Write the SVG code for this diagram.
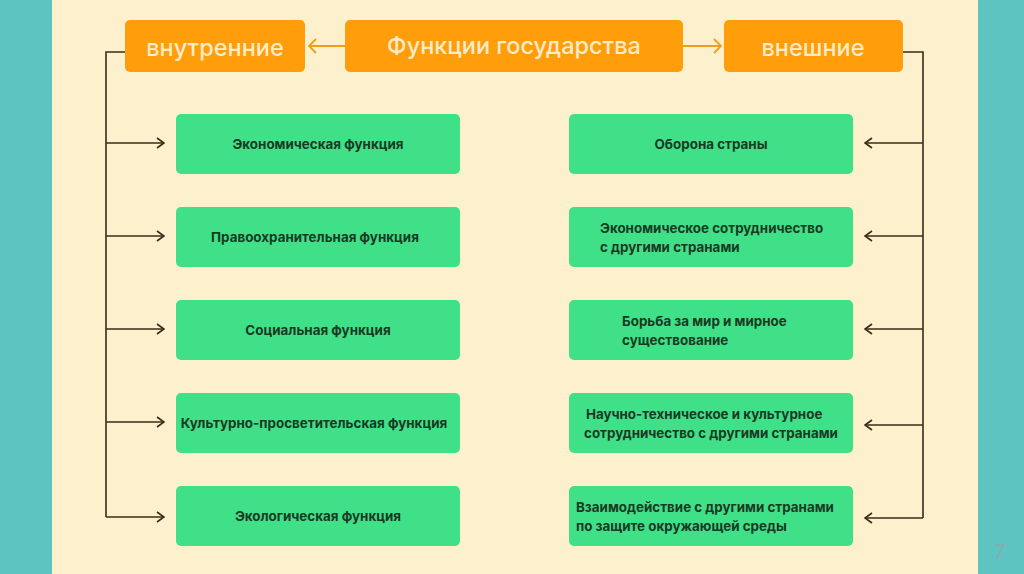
<svg xmlns="http://www.w3.org/2000/svg" width="1024" height="574" viewBox="0 0 1024 574">
<style>
.hdr{fill:#FF9D0B}
.hdrt{fill:#FCEBC4;font-family:Inter,"Liberation Sans",sans-serif;font-weight:500;font-size:23.5px;text-anchor:middle}
.box{fill:#40E089}
.bt{fill:#183A22;font-family:Inter,"Liberation Sans",sans-serif;font-weight:700;font-size:13.4px}
.c{text-anchor:middle}
.con{fill:none;stroke:#3B2A18;stroke-width:1.6}
.ocon{fill:none;stroke:#EE9E1C;stroke-width:1.8}
</style>
<defs>
<marker id="ah" markerUnits="userSpaceOnUse" viewBox="0 0 10 12" refX="9" refY="6" markerWidth="10" markerHeight="12" orient="auto">
<path d="M2,1 L9,6 L2,11" fill="none" stroke="#3B2A18" stroke-width="1.6"/>
</marker>
<marker id="oh" markerUnits="userSpaceOnUse" viewBox="0 0 10 16" refX="9" refY="8" markerWidth="10" markerHeight="16" orient="auto">
<path d="M2,1 L9,8 L2,15" fill="none" stroke="#EE9E1C" stroke-width="1.8"/>
</marker>
</defs>
<rect x="0" y="0" width="1024" height="574" fill="#FDF1CD"/>
<rect x="0" y="0" width="52" height="574" fill="#5EC4C2"/>
<rect x="978" y="0" width="46" height="574" fill="#5EC4C2"/>
<text x="1000" y="559" font-family="Inter,'Liberation Sans',sans-serif" font-size="20" fill="#82AEAD" text-anchor="middle">7</text>

<g id="connectors">
<path class="ocon" d="M345,46 H309" marker-end="url(#oh)"/>
<path class="ocon" d="M683,46 H721" marker-end="url(#oh)"/>
<path class="con" d="M125,52 H106 V517"/>
<path class="con" d="M106,143 H164" marker-end="url(#ah)"/>
<path class="con" d="M106,236 H164" marker-end="url(#ah)"/>
<path class="con" d="M106,329 H164" marker-end="url(#ah)"/>
<path class="con" d="M106,422 H164" marker-end="url(#ah)"/>
<path class="con" d="M106,517 H164" marker-end="url(#ah)"/>
<path class="con" d="M903,52 H923 V518"/>
<path class="con" d="M923,143 H865" marker-end="url(#ah)"/>
<path class="con" d="M923,236 H865" marker-end="url(#ah)"/>
<path class="con" d="M923,329 H865" marker-end="url(#ah)"/>
<path class="con" d="M923,425 H865" marker-end="url(#ah)"/>
<path class="con" d="M923,518 H865" marker-end="url(#ah)"/>
</g>

<g id="n-main"><rect class="hdr" x="345" y="20" width="338" height="52" rx="5"/><text class="hdrt" x="514" y="54">Функции государства</text></g>
<g id="n-inner"><rect class="hdr" x="125" y="20" width="180" height="52" rx="5"/><text class="hdrt" x="215" y="56">внутренние</text></g>
<g id="n-outer"><rect class="hdr" x="724" y="20" width="179" height="52" rx="5"/><text class="hdrt" x="813" y="56">внешние</text></g>

<g id="n-l1"><rect class="box" x="176" y="114" width="284" height="60" rx="5"/><text class="bt c" x="318" y="149">Экономическая функция</text></g>
<g id="n-l2"><rect class="box" x="176" y="207" width="284" height="60" rx="5"/><text class="bt c" x="315" y="242">Правоохранительная функция</text></g>
<g id="n-l3"><rect class="box" x="176" y="300" width="284" height="60" rx="5"/><text class="bt c" x="318" y="335">Социальная функция</text></g>
<g id="n-l4"><rect class="box" x="176" y="393" width="284" height="60" rx="5"/><text class="bt c" x="314" y="428">Культурно-просветительская функция</text></g>
<g id="n-l5"><rect class="box" x="176" y="486" width="284" height="60" rx="5"/><text class="bt c" x="318" y="521">Экологическая функция</text></g>

<g id="n-r1"><rect class="box" x="569" y="114" width="284" height="60" rx="5"/><text class="bt c" x="711" y="149">Оборона страны</text></g>
<g id="n-r2"><rect class="box" x="569" y="207" width="284" height="60" rx="5"/><text class="bt" x="600" y="233">Экономическое сотрудничество</text><text class="bt" x="600" y="252">с другими странами</text></g>
<g id="n-r3"><rect class="box" x="569" y="300" width="284" height="60" rx="5"/><text class="bt" x="622" y="326">Борьба за мир и мирное</text><text class="bt" x="622" y="345">существование</text></g>
<g id="n-r4"><rect class="box" x="569" y="393" width="284" height="60" rx="5"/><text class="bt" x="586" y="419">Научно-техническое и культурное</text><text class="bt" x="584" y="438">сотрудничество с другими странами</text></g>
<g id="n-r5"><rect class="box" x="569" y="486" width="284" height="60" rx="5"/><text class="bt" x="576" y="512">Взаимодействие с другими странами</text><text class="bt" x="576" y="531">по защите окружающей среды</text></g>
</svg>
